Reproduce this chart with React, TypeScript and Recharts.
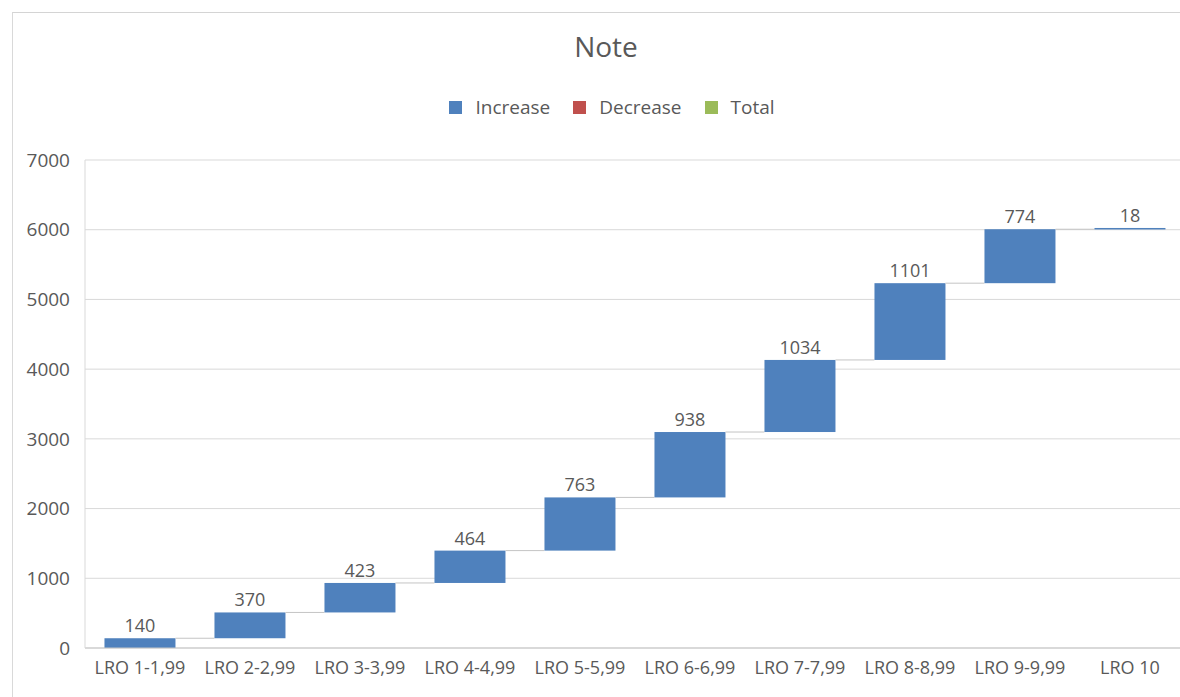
import React from 'react';
import { ComposedChart, Bar, XAxis, YAxis, CartesianGrid, LabelList, Legend } from 'recharts';

const categories = ['LRO 1-1,99', 'LRO 2-2,99', 'LRO 3-3,99', 'LRO 4-4,99', 'LRO 5-5,99', 'LRO 6-6,99', 'LRO 7-7,99', 'LRO 8-8,99', 'LRO 9-9,99', 'LRO 10'];
const increase = [140, 370, 423, 464, 763, 938, 1034, 1101, 774, 18];
const yTicks = [0, 1000, 2000, 3000, 4000, 5000, 6000, 7000];
const legendItems = [
  { name: 'Increase', color: '#4f81bd' },
  { name: 'Decrease', color: '#c0504d' },
  { name: 'Total', color: '#9bbb59' },
];

const GAP_RATIO = 0.177;

const data = (() => {
  let cum = 0;
  return categories.map((c, i) => {
    const base = cum;
    cum += increase[i];
    return { name: c, base, increase: increase[i] };
  });
})();

const FONT = '"Open Sans", "Noto Sans", sans-serif';
const TEXT = '#595959';

const WaterfallBar = (props: any) => {
  const { x, y, width, height, index, fill } = props;
  const gap = (width * 2 * GAP_RATIO) / (1 - 2 * GAP_RATIO);
  return (
    <g>
      <rect x={x} y={y} width={width} height={Math.max(height, 1.5)} fill={fill} />
      {index < data.length - 1 && (
        <line x1={x + width} x2={x + width + gap} y1={y} y2={y} stroke="#c4c4c4" strokeWidth={1} />
      )}
    </g>
  );
};

const LegendContent = () => (
  <div style={{ display: 'flex', justifyContent: 'center', alignItems: 'center', fontFamily: FONT, fontSize: 19, color: TEXT }}>
    {legendItems.map((it, i) => (
      <div key={it.name} style={{ display: 'flex', alignItems: 'center', marginLeft: i === 0 ? 0 : 23 }}>
        <span style={{ display: 'inline-block', width: 13, height: 13, background: it.color, marginRight: 13 }} />
        <span>{it.name}</span>
      </div>
    ))}
  </div>
);

export default function App() {
  return (
    <div style={{ position: 'absolute', left: 0, top: 0, width: 1180, height: 697, overflow: 'hidden', background: '#fff', fontFamily: FONT }}>
      <div style={{ position: 'absolute', left: 12, top: 12, width: 1200, height: 720, borderTop: '1px solid #d4d4d4', borderLeft: '1px solid #d9d9d9' }} />
      <div style={{ position: 'absolute', left: 12, top: 26, width: 1188, textAlign: 'center', fontSize: 28, color: TEXT, lineHeight: '40px' }}>Note</div>
      <div style={{ position: 'absolute', left: 0, top: 0 }}>
        <ComposedChart width={1210} height={697} data={data} margin={{ top: 160, right: 25, bottom: 0, left: 0 }} barCategoryGap={`${GAP_RATIO * 100}%`}>
          <Legend layout="horizontal" verticalAlign="middle" align="center" wrapperStyle={{ top: 94, left: 12, width: 1200 }} content={LegendContent} />
          <CartesianGrid vertical={false} stroke="#d9d9d9" />
          <XAxis dataKey="name" height={49} tickLine={false} tickSize={0} tickMargin={13} axisLine={{ stroke: '#c6c6c6' }} tick={{ fill: TEXT, fontSize: 18, fontFamily: FONT }} interval={0} />
          <YAxis width={85} domain={[0, 7000]} ticks={yTicks} tickLine={false} tickSize={0} tickMargin={15} axisLine={{ stroke: '#d9d9d9' }} tick={{ fill: TEXT, fontSize: 19, fontFamily: FONT }} />
          <Bar dataKey="base" stackId="w" fill="transparent" isAnimationActive={false} />
          <Bar dataKey="increase" stackId="w" fill="#4f81bd" shape={WaterfallBar} isAnimationActive={false}>
            <LabelList dataKey="increase" position="top" offset={6} fill={TEXT} fontSize={18} fontFamily={FONT} />
          </Bar>
        </ComposedChart>
      </div>
    </div>
  );
}
